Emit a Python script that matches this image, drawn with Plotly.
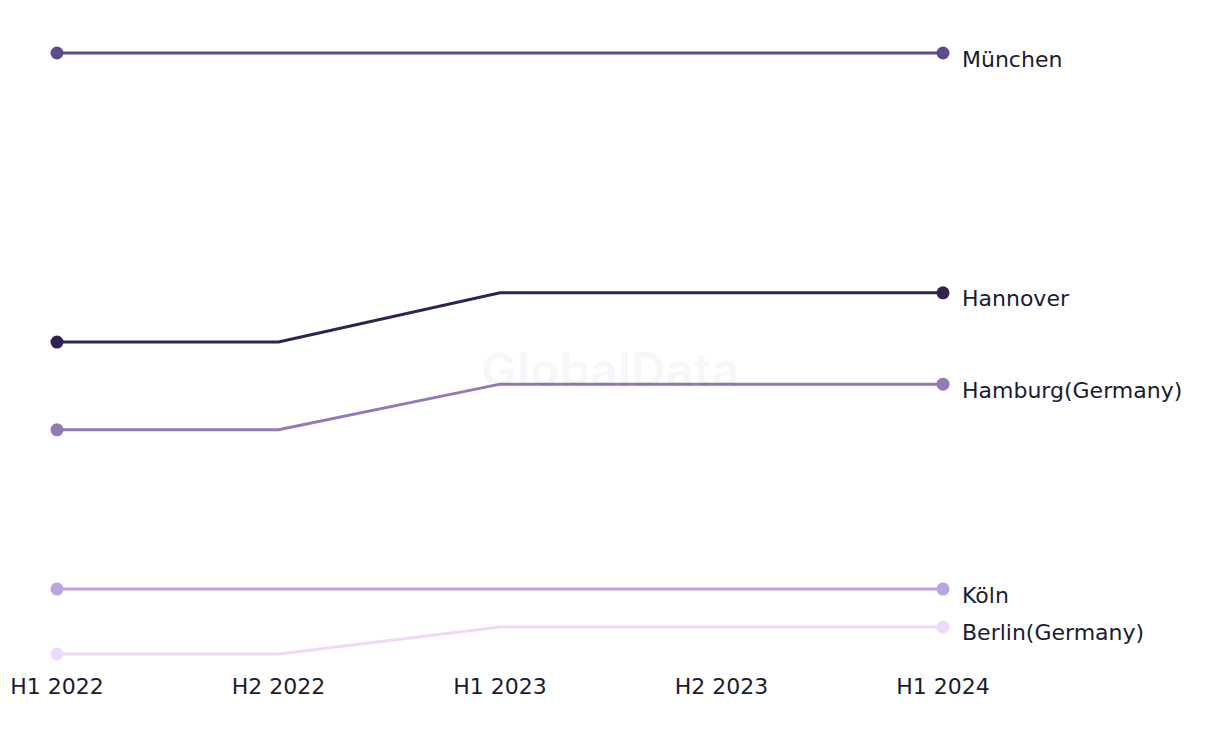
import plotly.graph_objects as go

periods = ["H1 2022", "H2 2022", "H1 2023", "H2 2023", "H1 2024"]
cities = ["München", "Hannover", "Hamburg(Germany)", "Köln", "Berlin(Germany)"]
munchen = [100.0, 100.0, 100.0, 100.0, 100.0]
hannover = [51.9, 51.9, 60.1, 60.1, 60.1]
hamburg = [37.3, 37.3, 44.9, 44.9, 44.9]
koln = [10.8, 10.8, 10.8, 10.8, 10.8]
berlin = [0.0, 0.0, 4.5, 4.5, 4.5]
series = [munchen, hannover, hamburg, koln, berlin]
colors = ["#5f4b8b", "#33224f", "#9479b6", "#bba5e0", "#f0d9f8"]

FONT = "DejaVu Sans, Inter, sans-serif"
TXT = "#1b1b2f"

fig = go.Figure()
for name, vals, col in zip(cities, series, colors):
    fig.add_trace(go.Scatter(
        x=periods, y=vals, mode="lines", name=name,
        line=dict(color=col, width=3),
        showlegend=False, hoverinfo="x+y+name",
    ))
    fig.add_trace(go.Scatter(
        x=[periods[0], periods[-1]], y=[vals[0], vals[-1]], mode="markers",
        name=name, marker=dict(color=col, size=13, opacity=1, line=dict(width=0)),
        cliponaxis=False, showlegend=False, hoverinfo="x+y+name",
    ))
    fig.add_annotation(
        x=periods[-1], y=vals[-1], text=name, showarrow=False,
        xanchor="left", yanchor="middle", xshift=17, yshift=-6,
        font=dict(family=FONT, size=22, color=TXT),
    )

fig.add_annotation(
    x=0.624, y=0.474, xref="paper", yref="paper", text="<b>GlobalData</b>",
    showarrow=False, font=dict(family="Inter, sans-serif", size=48, color="rgba(0,0,0,0.035)"),
    xanchor="center", yanchor="middle",
)

fig.update_layout(
    width=1220, height=744,
    margin=dict(l=49, r=285, t=33, b=86, autoexpand=False),
    paper_bgcolor="white", plot_bgcolor="white",
    xaxis=dict(type="category", range=[0, 4], showgrid=False, zeroline=False,
               showline=False, ticks="", ticklabelstandoff=5, automargin=False,
               tickfont=dict(family=FONT, size=22, color=TXT)),
    yaxis=dict(range=[-2, 102], visible=False, showgrid=False, zeroline=False,
               automargin=False),
)
fig.write_html("out.html")
